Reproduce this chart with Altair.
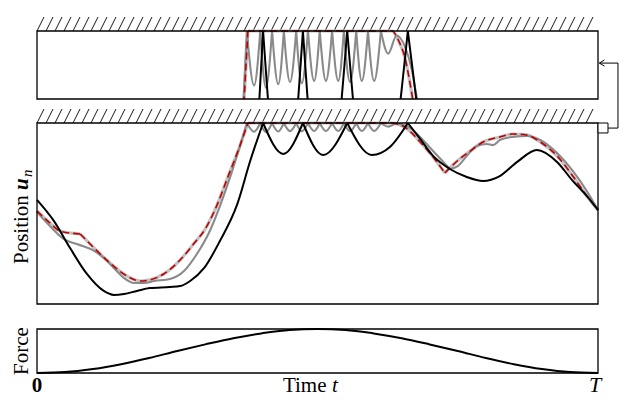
import altair as alt
import pandas as pd

FONT = "Liberation Serif"

# time in % of T, position in % of the gap to the wall (100 = wall)
black_t = [[0, 3.0, 5.9, 8.9, 11.9, 13.7, 15.5, 17.8, 20.1, 23.7, 25.5, 27.3, 29.8, 32.6, 35.7, 38.0, 40.3],
           [40.3, 43.9, 47.4],
           [47.4, 51.0, 55.3],
           [55.3, 59.7, 62.9, 66.1],
           [66.1, 68.3, 70.6, 73.6, 76.6, 79.5, 82.5, 85.6, 89.1, 92.7, 95.5, 98.0, 100]]
black_u = [[57.5, 45.9, 30.9, 16.6, 7.2, 5.0, 5.5, 7.2, 8.8, 9.4, 9.9, 12.7, 19.9, 34.8, 55.2, 79.0, 100],
           [100, 82.9, 100],
           [100, 82.3, 100],
           [100, 82.3, 86.7, 100],
           [100, 91.2, 81.8, 74.6, 70.2, 68.0, 70.7, 78.5, 85.1, 78.5, 68.0, 59.7, 51.9]]

ref_t = [[0, 2.3, 4.1, 7.7],
         [7.7, 10.2, 13.0, 16.0, 18.4, 20.1, 22.6, 25.5, 28.0, 30.0, 32.0, 34.0, 36.0, 37.6],
         [37.6, 63.3, 64.3, 65.6, 66.8, 68.3, 70.4, 72.7],
         [72.7, 74.9, 77.2, 79.5, 82.5, 84.8, 87.3, 89.7, 92.7, 95.5, 98.0, 100]]
ref_u = [[51.4, 44.8, 40.3, 38.7],
         [38.7, 30.9, 22.7, 15.5, 12.7, 13.3, 16.6, 24.3, 33.5, 41.5, 54.0, 70.0, 86.0, 100],
         [100, 100, 99.3, 97.6, 94.5, 89.5, 82.0, 72.4],
         [72.4, 79.0, 84.5, 89.5, 92.3, 93.9, 93.4, 89.5, 81.8, 70.7, 59.7, 51.9]]

# gray: approach, then small bounces against the wall, then release
gray_t = [[0, 2.3, 4.8, 7.1, 10.2, 11.9, 13.7, 15.5, 17.3, 19.1, 20.9, 23.7, 26.2, 28.5, 30.8, 32.6, 34.2, 35.8, 37.4],
          [37.4, 38.7, 39.8], [39.8, 40.8, 41.9], [41.9, 43.0, 44.0], [44.0, 45.1, 46.2],
          [46.2, 47.2, 48.3], [48.3, 49.4, 50.4], [50.4, 51.5, 52.6], [52.6, 53.7, 54.7],
          [54.7, 55.8, 56.9], [56.9, 57.9, 59.0], [59.0, 60.1, 61.3],
          [61.3, 62.6, 64.1, 65.6, 66.8, 67.7, 70.6, 73.6],
          [73.6, 75.0, 76.6, 78.4, 80.2, 81.3, 82.5, 84.8, 87.3, 89.7, 92.7, 95.5, 98.0, 100]]
gray_u = [[50.8, 43.1, 35.9, 33.1, 29.3, 25.4, 19.9, 14.4, 11.6, 11.6, 12.7, 13.8, 18.2, 27.6, 40.3, 54.1, 68.0, 83.4, 100],
          [100, 95.2, 100], [100, 95.0, 100], [100, 95.3, 100], [100, 95.5, 100],
          [100, 95.4, 100], [100, 95.6, 100], [100, 95.6, 100], [100, 95.6, 100],
          [100, 95.5, 100], [100, 95.6, 100], [100, 95.6, 100],
          [100, 98.0, 99.6, 98.6, 96.6, 94.1, 84.5, 74.6],
          [74.6, 76.2, 81.8, 87.3, 88.4, 87.8, 90.6, 92.3, 92.8, 90.6, 83.4, 73.5, 62.4, 51.9]]

force_t = [0, 5, 10, 15, 20, 25, 30, 35, 40, 45, 50, 55, 60, 65, 70, 75, 80, 85, 90, 95, 100]
force_f = [0, 0.02, 0.09, 0.2, 0.34, 0.5, 0.65, 0.79, 0.9, 0.98, 1.0, 0.98, 0.9, 0.79, 0.65, 0.5, 0.34, 0.2,
           0.09, 0.02, 0]


def segments(name, ts, us):
    rows = []
    for k, (tt, uu) in enumerate(zip(ts, us)):
        for i, (a, b) in enumerate(zip(tt, uu)):
            rows.append({"t": a, "u": b, "seg": f"{name}{k:02d}", "i": i})
    return pd.DataFrame(rows)


black_df = segments("b", black_t, black_u)
ref_df = segments("r", ref_t, ref_u)
gray_df = segments("g", gray_t, gray_u)
force_df = pd.DataFrame({"t": force_t, "u": force_f, "seg": "f", "i": range(len(force_t))})

xs = alt.Scale(domain=[0, 100], nice=False, zero=False)
top_ys = alt.Scale(domain=[94, 101.235], nice=False, zero=False)
main_ys = alt.Scale(domain=[0, 107.735], nice=False, zero=False)
force_ys = alt.Scale(domain=[0, 1.3409], nice=False, zero=False)

W = 561


def enc(yscale):
    return dict(x=alt.X("t:Q", scale=xs, axis=None),
                y=alt.Y("u:Q", scale=yscale, axis=None),
                detail="seg:N", order="i:Q")


def curves(yscale, clip):
    return [
        alt.Chart(ref_df).mark_line(color="#c2c2c2", strokeWidth=3.2, interpolate="monotone", clip=clip).encode(**enc(yscale)),
        alt.Chart(gray_df).mark_line(color="#8a8a8a", strokeWidth=2.1, interpolate="monotone", clip=clip).encode(**enc(yscale)),
        alt.Chart(ref_df).mark_line(color="#c00000", strokeWidth=1.6, strokeDash=[7, 4], interpolate="monotone", clip=clip).encode(**enc(yscale)),
        alt.Chart(black_df).mark_line(color="black", strokeWidth=2, interpolate="monotone", clip=clip).encode(**enc(yscale)),
    ]


def rules(df, yscale, **kw):
    return alt.Chart(df).mark_rule(**kw).encode(
        x=alt.X("x:Q", scale=xs, axis=None), x2="x2:Q",
        y=alt.Y("y:Q", scale=yscale, axis=None), y2="y2:Q")


def box(x0, x1, lo, hi, yscale, **kw):
    df = pd.DataFrame({"x": [x0], "x2": [x1], "y": [lo], "y2": [hi]})
    return alt.Chart(df).mark_rect(**kw).encode(
        x=alt.X("x:Q", scale=xs, axis=None), x2="x2:Q",
        y=alt.Y("y:Q", scale=yscale, axis=None), y2="y2:Q")


def hatch(lo, hi, yscale):
    step = 9 / 5.61
    lean = 7 / 5.61
    rows = []
    k = 0
    while k * step + lean <= 100.3:
        rows.append({"x": k * step, "x2": k * step + lean, "y": lo, "y2": hi})
        k += 1
    return rules(pd.DataFrame(rows), yscale, color="black", strokeWidth=0.9)


def label(text, x, y, yscale, **kw):
    df = pd.DataFrame({"x": [x], "y": [y]})
    return alt.Chart(df).mark_text(text=text, font=FONT, color="black", **kw).encode(
        x=alt.X("x:Q", scale=xs, axis=None), y=alt.Y("y:Q", scale=yscale, axis=None))


# ---- top (zoomed) panel
top = alt.layer(
    hatch(100, 101.235, top_ys),
    *curves(top_ys, True),
    box(0, 100, 94, 100, top_ys, fillOpacity=0, stroke="black", strokeWidth=1.3),
).properties(width=W, height=82)

# ---- main panel
conn = pd.DataFrame({
    "x": [101.78, 103.56, 103.56, 100.25, 100.25],
    "x2": [103.56, 103.56, 100.25, 101.15, 101.15],
    "y": [97.2, 97.2, 133.1, 133.1, 133.1],
    "y2": [97.2, 133.1, 133.1, 134.8, 131.4],
})
main = alt.layer(
    hatch(100, 107.735, main_ys),
    *curves(main_ys, False),
    box(0, 100, 0, 100, main_ys, fillOpacity=0, stroke="black", strokeWidth=1.3),
    box(100, 101.78, 94.5, 100, main_ys, fill="white", stroke="black", strokeWidth=1),
    rules(conn, main_ys, color="black", strokeWidth=1),
    label("Position", -1.6, 22.1, main_ys, angle=270, align="left", baseline="alphabetic", fontSize=21),
    label("u", -1.6, 63.0, main_ys, angle=270, align="left", baseline="alphabetic", fontSize=21,
          fontStyle="italic", fontWeight="bold"),
    label("n", -0.85, 70.2, main_ys, angle=270, align="left", baseline="alphabetic", fontSize=15,
          fontStyle="italic"),
).properties(width=W, height=195)

# ---- force panel
force = alt.layer(
    alt.Chart(force_df).mark_line(color="black", strokeWidth=2, interpolate="monotone").encode(**enc(force_ys)),
    box(0, 100, 0, 1, force_ys, fillOpacity=0, stroke="black", strokeWidth=1.3),
    label("Force", -1.6, 0.5, force_ys, angle=270, align="center", baseline="alphabetic", fontSize=21),
    label("0", 0, -0.432, force_ys, align="center", baseline="alphabetic", fontSize=21, fontWeight="bold"),
    label("T", 99.5, -0.432, force_ys, align="center", baseline="alphabetic", fontSize=22, fontStyle="italic"),
    label("Time", 51.6, -0.432, force_ys, align="right", baseline="alphabetic", fontSize=21),
    label("t", 52.6, -0.432, force_ys, align="left", baseline="alphabetic", fontSize=21, fontStyle="italic"),
).properties(width=W, height=59)

chart = alt.vconcat(top, main, force, spacing=10, bounds="flush").properties(
    padding={"left": 3, "top": 8, "right": 0, "bottom": 0}
).configure_view(stroke=None)

chart.save("out.html", embed_options={"renderer": "svg", "actions": False})
